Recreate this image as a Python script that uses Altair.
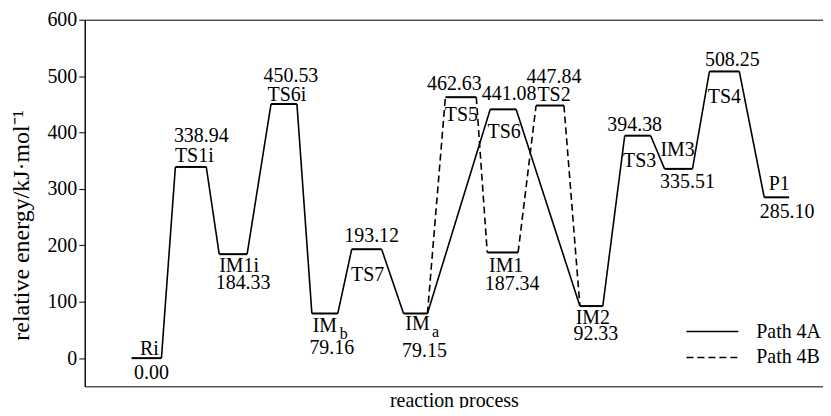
import altair as alt
import pandas as pd

# ---- data: energy levels (reaction coordinate in arbitrary units) ----
names = ["Ri", "TS1i", "IM1i", "TS6i", "IMb", "TS7", "IMa", "TS5", "TS6",
         "IM1", "TS2", "IM2", "TS3", "IM3", "TS4", "P1"]
energies = [0.00, 338.94, 184.33, 450.53, 79.16, 193.12, 79.15, 462.63, 441.08,
            187.34, 447.84, 92.33, 394.38, 335.51, 508.25, 285.10]
x_start = [47, 91, 135, 187, 228, 268, 320, 362, 407, 404, 453, 497, 542, 582, 627, 682]
x_end = [77, 122, 163, 213, 254, 298, 344, 393, 433, 435, 481, 520, 568, 610, 657, 707]

path_4a = ["Ri", "TS1i", "IM1i", "TS6i", "IMb", "TS7", "IMa", "TS6", "IM2",
           "TS3", "IM3", "TS4", "P1"]
path_4b = ["IMa", "TS5", "IM1", "TS2", "IM2"]
path_names = ["Path 4A", "Path 4B"]

# ---- annotation layout: (text, x, level, pixel offset of baseline from level line) ----
labels = [
    ("Ri", 65, "Ri", -3), ("0.00", 67, "Ri", 21),
    ("338.94", 117, "TS1i", -25), ("TS1i", 110, "TS1i", -5),
    ("IM1i", 155, "IM1i", 18), ("184.33", 159, "IM1i", 35),
    ("450.53", 207, "TS6i", -22), ("TS6i", 203, "TS6i", -3),
    ("IM", 241, "IMb", 19), ("79.16", 248, "IMb", 41),
    ("193.12", 288, "TS7", -7), ("TS7", 284, "TS7", 32),
    ("IM", 334, "IMa", 17), ("79.15", 341, "IMa", 44),
    ("462.63", 371, "TS5", -7), ("TS5", 378, "TS5", 24),
    ("441.08", 426, "TS6", -9), ("TS6", 421, "TS6", 29),
    ("447.84", 471, "TS2", -23), ("TS2", 471, "TS2", -5),
    ("IM1", 423, "IM1", 20), ("187.34", 429, "IM1", 38),
    ("IM2", 510, "IM2", 18), ("92.33", 513, "IM2", 34),
    ("394.38", 552, "TS3", -5), ("TS3", 557, "TS3", 31),
    ("IM3", 595, "IM3", -13), ("335.51", 605, "IM3", 19),
    ("508.25", 650, "TS4", -5), ("TS4", 642, "TS4", 32),
    ("P1", 697, "P1", -7), ("285.10", 705, "P1", 21),
]
subscripts = [("b", 260, "IMb", 26), ("a", 352, "IMa", 24)]

W, H = 741, 368
Y_MIN, Y_MAX = -50, 600
UNITS_PER_PX = (Y_MAX - Y_MIN) / H
FONT = "Liberation Serif"

E = dict(zip(names, energies))
XS = dict(zip(names, x_start))
XE = dict(zip(names, x_end))

levels = pd.DataFrame({"name": names, "E": energies, "x0": x_start, "x1": x_end})

rows = []
seg = 0
for pname, seq in zip(path_names, [path_4a, path_4b]):
    for a, b in zip(seq[:-1], seq[1:]):
        rows.append({"path": pname, "seg": seg, "o": 0, "x": XE[a], "y": E[a]})
        rows.append({"path": pname, "seg": seg, "o": 1, "x": XS[b], "y": E[b]})
        seg += 1
conn = pd.DataFrame(rows)


def label_df(items):
    return pd.DataFrame([
        {"t": t, "x": x, "y": E[lv] - dy * UNITS_PER_PX} for t, x, lv, dy in items
    ])


lab = label_df(labels)
sub = label_df(subscripts)

xs = alt.Scale(domain=[0, W], nice=False, zero=False)
ys = alt.Scale(domain=[Y_MIN, Y_MAX], nice=False, zero=False)

x_axis = alt.Axis(title="reaction process", labels=False, ticks=False, domain=False,
                  grid=False, titlePadding=4)
y_axis = alt.Axis(title="relative energy/kJ·mol⁻¹", values=[0, 100, 200, 300, 400, 500, 600],
                  grid=False, tickSize=6, labelPadding=2, titlePadding=13,
                  titleFontSize=24, titleY=206)

lines = alt.Chart(conn).mark_line(color="black", strokeWidth=1.6).encode(
    x=alt.X("x:Q", scale=xs, axis=x_axis),
    y=alt.Y("y:Q", scale=ys, axis=y_axis),
    detail="seg:N",
    order="o:Q",
    strokeDash=alt.StrokeDash(
        "path:N",
        scale=alt.Scale(domain=path_names, range=[[1, 0], [7, 4]]),
        legend=alt.Legend(
            title=None, orient="none", legendX=619, legendY=302,
            symbolType="M-2.6,0H2.6", symbolSize=400, symbolStrokeWidth=1.6,
            symbolStrokeColor="black", symbolFillColor="transparent",
            labelFont=FONT, labelFontSize=20, labelColor="black", labelOffset=33,
            rowPadding=5,
        ),
    ),
)

rules = alt.Chart(levels).mark_rule(color="black", strokeWidth=2).encode(
    x=alt.X("x0:Q", scale=xs), x2="x1:Q", y=alt.Y("E:Q", scale=ys)
)

texts = alt.Chart(lab).mark_text(font=FONT, fontSize=20, color="black",
                                 baseline="alphabetic", align="center").encode(
    x=alt.X("x:Q", scale=xs), y=alt.Y("y:Q", scale=ys), text="t:N"
)
subs = alt.Chart(sub).mark_text(font=FONT, fontSize=16, color="black",
                                baseline="alphabetic", align="center").encode(
    x=alt.X("x:Q", scale=xs), y=alt.Y("y:Q", scale=ys), text="t:N"
)

chart = alt.layer(lines, rules, texts, subs).properties(
    width=W, height=H,
    autosize=alt.AutoSizeParams(type="none"),
    padding={"left": 77, "top": 11, "right": 0, "bottom": 21},
).configure_view(stroke="black", strokeWidth=1).configure_axis(
    labelFont=FONT, labelFontSize=20, labelColor="black",
    titleFont=FONT, titleFontSize=20, titleColor="black", titleFontWeight="normal",
    domainColor="black", tickColor="black",
)

chart.save("out.html", embed_options={"renderer": "svg", "actions": False})
